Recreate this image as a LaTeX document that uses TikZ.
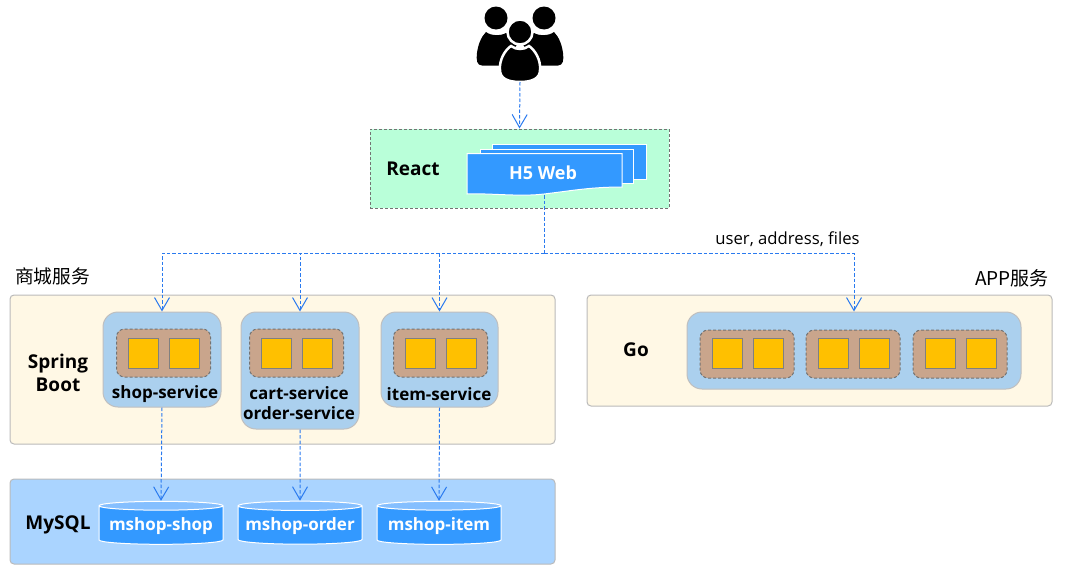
\documentclass[tikz,border=0pt]{standalone}
\usepackage{fontspec}
\usepackage{xcolor}
\setmainfont{Open Sans}
\newfontfamily\cjk{Noto Sans CJK SC}
\usetikzlibrary{arrows.meta,shapes.geometric}

\definecolor{linkblue}{HTML}{2A7AEF}
\definecolor{pageblue}{HTML}{3399FF}
\definecolor{lidblue}{HTML}{85BFFF}
\definecolor{mintbg}{HTML}{B9FFD9}
\definecolor{creambg}{HTML}{FFF8E5}
\definecolor{dbbg}{HTML}{AAD4FF}
\definecolor{svcblue}{HTML}{ABD0EE}
\definecolor{podbrown}{HTML}{C9A58C}
\definecolor{boxyellow}{HTML}{FFC000}

\tikzset{
    link/.style={plainlink, -{Straight Barb[length=13pt,width=15pt,line width=1pt]}},
    plainlink/.style={dash pattern=on 3.5pt off 2pt, line width=1pt, linkblue},
    area/.style={draw=black!27, line width=1pt, rounded corners=4pt, anchor=center},
    svcblock/.style={draw=black!25, fill=svcblue, line width=1pt, rounded corners=15pt},
    pod/.style={draw=black!55, dash pattern=on 3pt off 2pt, fill=podbrown, line width=1pt, rounded corners=8pt, minimum width=94pt, minimum height=48pt},
    container/.style={draw=black!50, fill=boxyellow, line width=1pt, minimum width=30pt, minimum height=30pt},
    dbstore/.style={cylinder, shape border rotate=90, aspect=0.08, draw=white, line width=1pt, cylinder uses custom fill, cylinder body fill=pageblue, cylinder end fill=lidblue, minimum width=124pt, minimum height=43pt, text=white, font=\bfseries\fontsize{17}{18}\selectfont},
    heading/.style={font=\bfseries\fontsize{19}{23}\selectfont, align=center},
    svclabel/.style={font=\bfseries\fontsize{17}{20}\selectfont, align=center},
    page/.style={draw=white, fill=pageblue, line width=1pt},
}

\begin{document}
\begin{tikzpicture}[x=1pt,y=-1pt]
        \useasboundingbox (0,0) rectangle (1065,565);

        % Users on top
        \begin{scope}[black]
            \fill (496,18) circle (11.5);
            \fill (544,18) circle (11.5);
            \fill (486,32) .. controls (491,36) and (501,36) .. (506,33) -- (520,40) -- (503,65.5) -- (482,65.5) .. controls (477,65.5) and (476,60) .. (477,53) .. controls (478,45) and (481,37) .. (486,32) -- cycle;
            \fill (554,32) .. controls (549,36) and (539,36) .. (534,33) -- (520,40) -- (537,65.5) -- (558,65.5) .. controls (563,65.5) and (564,60) .. (563,53) .. controls (562,45) and (559,37) .. (554,32) -- cycle;
            \filldraw[draw=white, line width=2.5pt] (511,46) .. controls (516,50) and (524,50) .. (529,46) .. controls (535,50) and (541,60) .. (540,70) .. controls (540,78) and (533,82) .. (520,82) .. controls (507,82) and (500,78) .. (500,70) .. controls (499,60) and (505,50) .. (511,46) -- cycle;
            \filldraw[draw=white, line width=2.5pt] (520,32) circle (12.5);
        \end{scope}
        \coordinate (users) at (520,82);

        % React layer
        \node[draw=black!55, dash pattern=on 3pt off 2pt, fill=mintbg, line width=1pt, minimum width=299pt, minimum height=79pt] (react) at (519.5,168.5) {};
        \node[heading] (reactlabel) at (413,169) {React};
        \draw[page] (492,144.5) rectangle (646,179);
        \draw[page] (480,149) rectangle (633,183);
        \draw[page] (467,153.5) -- (622,153.5) -- (622,187) .. controls (590,187) and (570,191) .. (544,194) .. controls (520,197) and (490,193) .. (467,194) -- cycle;
        \node[text=white, font=\bfseries\fontsize{18}{20}\selectfont] (h5web) at (543,173) {H5 Web};
        \coordinate (h5bottom) at (544,195);

        % Group titles
        \node[anchor=west, inner sep=0pt, font=\cjk\fontsize{18.7}{20}\selectfont] (malltitle) at (15,276) {商城服务};
        \node[anchor=east, inner sep=0pt, font=\cjk\fontsize{19}{20}\selectfont] (apptitle) at (1049,278) {APP服务};

        % Mall services
        \node[area, fill=creambg, minimum width=545pt, minimum height=149pt] (mall) at (282.5,369.5) {};
        \node[heading] (springlabel) at (58,372.5) {Spring\\Boot};
        \node[svcblock, minimum width=118pt, minimum height=95pt] (shop) at (162,359.5) {};
        \node[svcblock, minimum width=118pt, minimum height=117pt] (cart) at (300,370.5) {};
        \node[svcblock, minimum width=117pt, minimum height=95pt] (item) at (439.5,359.5) {};
        \foreach \cx in {163.5,296.5,440.5} {
            \node[pod] at (\cx,353) {};
            \node[container] at (\cx-20,353.5) {};
            \node[container] at (\cx+21,353.5) {};
        }
        \node[svclabel] (shoplabel) at (165,394.5) {shop-service};
        \node[svclabel] (cartlabel) at (299,403) {cart-service\\order-service};
        \node[svclabel] (itemlabel) at (439,394.5) {item-service};

        % App services
        \node[area, fill=creambg, minimum width=465pt, minimum height=111pt] (app) at (819.5,350.5) {};
        \node[heading] (golabel) at (636,350) {Go};
        \node[svcblock, minimum width=334pt, minimum height=77pt] (go) at (854,350.5) {};
        \foreach \cx in {747,853,960} {
            \node[pod] at (\cx,354) {};
            \node[container] at (\cx-19.5,353.5) {};
            \node[container] at (\cx+21,353.5) {};
        }

        % MySQL layer
        \node[area, fill=dbbg, minimum width=545pt, minimum height=85pt] (mysql) at (282.5,521.5) {};
        \node[heading] (mysqllabel) at (58,525) {MySQL};
        \node[dbstore] (dbshop) at (161,526) {mshop-shop};
        \node[dbstore] (dborder) at (300,526) {mshop-order};
        \node[dbstore] (dbitem) at (439,526) {mshop-item};

        % Connectors
        \draw[link] (users) -- (react.north);
        \coordinate (bus) at (544,253);
        \draw[plainlink] (h5bottom) -- (bus);
        \draw[link] (bus) -| (shop.north);
        \draw[link] (bus) -| (cart.north);
        \draw[link] (bus) -| (item.north);
        \draw[link] (bus) -| (go.north);
        \node[font=\fontsize{16.7}{18}\selectfont] (applabel) at (787.5,239.5) {user, address, files};
        \draw[link] (shop.south) -- (dbshop.north);
        \draw[link] (cart.south) -- (dborder.north);
        \draw[link] (item.south) -- (dbitem.north);

\end{tikzpicture}
\end{document}
